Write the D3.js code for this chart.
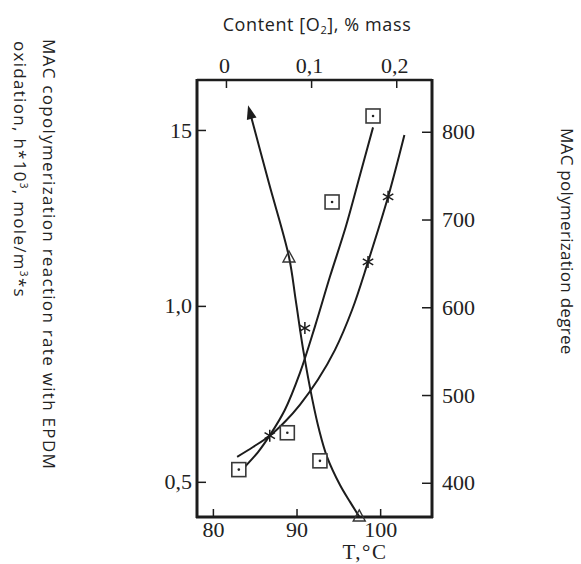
<!DOCTYPE html>
<html><head><meta charset="utf-8">
<script src="https://cdn.jsdelivr.net/npm/d3@7/dist/d3.min.js"></script>
<style>
body{margin:0;background:#fff;}
svg{display:block;}
.tick text{font-family:"Liberation Serif",serif;font-size:22px;fill:#222;}
.lbl{font-family:"Open Sans",sans-serif;fill:#222;}
</style></head>
<body>
<svg id="c" width="581" height="564"></svg>
<script>
// ---- data ----
const T_TICKS = [80, 90, 100];
const O2_TICKS = [0, 0.1, 0.2];
const O2_LABELS = ["0", "0,1", "0,2"];
const RATE_TICKS = [1.5, 1.0, 0.5];
const RATE_LABELS = ["15", "1,0", "0,5"];
const DEG_TICKS = [400, 500, 600, 700, 800];

// squares: polymerization degree (right axis) vs T
const squareT   = [83.1, 88.9, 92.8, 94.25, 99.15];
const squareDeg = [415, 457, 425, 720, 818];
const curveA_T   = [83.8, 85.4, 86.8, 88.6, 90.4, 92.2, 94.0, 95.9, 97.6, 99.15];
const curveA_Deg = [418, 435, 454, 483, 525, 578, 635, 692, 751, 805];

// stars: reaction rate (left axis) vs T
const starT    = [86.8, 91.0, 98.55, 100.95];
const starRate = [0.631, 0.937, 1.125, 1.310];
const curveB_T    = [82.9, 84.8, 86.8, 88.7, 90.4, 92.55, 94.6, 96.65, 98.55, 100.95, 102.9];
const curveB_Rate = [0.571, 0.599, 0.631, 0.673, 0.719, 0.790, 0.875, 0.989, 1.125, 1.310, 1.486];

// triangles: curve with arrow (left axis) vs T
const triT    = [89.1, 97.5];
const triRate = [1.139, 0.403];
const curveC_T    = [84.3, 86.7, 89.1, 89.9, 90.8, 91.9, 92.7, 93.65, 95.2, 96.4, 97.5];
const curveC_Rate = [1.562, 1.349, 1.139, 1.017, 0.875, 0.733, 0.648, 0.571, 0.491, 0.443, 0.401];

// ---- layout ----
const L = 197, R = 432, TOP = 80, B = 517;
const svg = d3.select("#c");
const x = d3.scaleLinear().domain([78.1, 106.2]).range([L, R]);
const xO2 = d3.scaleLinear().domain([-0.034, 0.242]).range([L, R]);
const yRate = d3.scaleLinear().domain([0.40, 1.642]).range([B, TOP]);
const yDeg = d3.scaleLinear().domain([361, 859]).range([B, TOP]);
const ink = "#1c1c1c";

// axes
const gB = svg.append("g").attr("transform", `translate(0,${B})`)
  .call(d3.axisBottom(x).tickValues(T_TICKS).tickSize(-8).tickPadding(4).tickFormat(d3.format("d")));
const gT = svg.append("g").attr("transform", `translate(0,${TOP})`)
  .call(d3.axisTop(xO2).tickValues(O2_TICKS).tickSize(-8).tickPadding(7).tickFormat((d,i)=>O2_LABELS[i]));
const gL = svg.append("g").attr("transform", `translate(${L},0)`)
  .call(d3.axisLeft(yRate).tickValues(RATE_TICKS).tickSize(-9).tickPadding(5).tickFormat((d,i)=>RATE_LABELS[i]));
const gR = svg.append("g").attr("transform", `translate(${R},0)`)
  .call(d3.axisRight(yDeg).tickValues(DEG_TICKS).tickSize(-10).tickPadding(10).tickFormat(d3.format("d")));
[gB,gT,gL,gR].forEach(g=>{
  g.select(".domain").remove();
  g.selectAll(".tick line").attr("stroke", ink).attr("stroke-width", 1.5);
});
gT.selectAll(".tick text").attr("dx", -2);

// frame
svg.append("line").attr("x1",L).attr("x2",R).attr("y1",TOP).attr("y2",TOP).attr("stroke",ink).attr("stroke-width",2.5);
svg.append("line").attr("x1",L-1).attr("x2",R+1).attr("y1",B).attr("y2",B).attr("stroke",ink).attr("stroke-width",3);
svg.append("line").attr("x1",L).attr("x2",L).attr("y1",TOP-1).attr("y2",B+1).attr("stroke",ink).attr("stroke-width",3);
svg.append("line").attr("x1",R).attr("x2",R).attr("y1",TOP-1).attr("y2",B+1).attr("stroke",ink).attr("stroke-width",3);

// curves
const line = d3.line().curve(d3.curveCatmullRom.alpha(0.5));
const ptsA = curveA_T.map((t,i)=>[x(t), yDeg(curveA_Deg[i])]);
const ptsB = curveB_T.map((t,i)=>[x(t), yRate(curveB_Rate[i])]);
const ptsC = curveC_T.map((t,i)=>[x(t), yRate(curveC_Rate[i])]);
[ptsA, ptsB, ptsC].forEach(p=>{
  svg.append("path").attr("d", line(p)).attr("fill","none").attr("stroke",ink).attr("stroke-width",2);
});

// arrow head at start of curve C
{
  const [x0,y0] = ptsC[0], [x1,y1] = ptsC[1];
  const ang = Math.atan2(y0-y1, x0-x1);
  const len = 14, w = 5;
  const tip = [x0 + Math.cos(ang)*3, y0 + Math.sin(ang)*3];
  const bx = tip[0] - Math.cos(ang)*len, by = tip[1] - Math.sin(ang)*len;
  const px = -Math.sin(ang)*w, py = Math.cos(ang)*w;
  svg.append("path").attr("d", `M${tip[0]},${tip[1]}L${bx+px},${by+py}L${bx-px},${by-py}Z`).attr("fill", ink);
}

// square markers
const sq = svg.append("g");
squareT.forEach((t,i)=>{
  const cx = x(t), cy = yDeg(squareDeg[i]);
  sq.append("rect").attr("x",cx-7).attr("y",cy-7).attr("width",14).attr("height",14)
    .attr("fill","#fff").attr("stroke","#3a3a3a").attr("stroke-width",1.6);
  sq.append("circle").attr("cx",cx).attr("cy",cy).attr("r",1.3).attr("fill","#222");
});

// star markers
const st = svg.append("g").attr("stroke", ink).attr("stroke-width",1.5);
starT.forEach((t,i)=>{
  const cx = x(t), cy = yRate(starRate[i]);
  [0,60,120].forEach(a=>{
    const r = 6, rad = (a+90)*Math.PI/180;
    st.append("line").attr("x1",cx-Math.cos(rad)*r).attr("y1",cy-Math.sin(rad)*r)
      .attr("x2",cx+Math.cos(rad)*r).attr("y2",cy+Math.sin(rad)*r);
  });
});

// triangle markers
const tr = svg.append("g");
triT.forEach((t,i)=>{
  const cx = x(t), cy = yRate(triRate[i]);
  tr.append("path").attr("d", `M${cx},${cy-6}L${cx+6},${cy+5}L${cx-6},${cy+5}Z`)
    .attr("fill","none").attr("stroke","#333").attr("stroke-width",1.4);
});

// titles
const topTitle = svg.append("text").attr("class","lbl").attr("x",317).attr("y",31)
  .attr("text-anchor","middle").attr("font-size",18).attr("letter-spacing",0.6);
topTitle.append("tspan").text("Content [O");
topTitle.append("tspan").attr("font-size",11).attr("dy",3).text("2");
topTitle.append("tspan").attr("dy",-3).text("], % mass");

svg.append("text").attr("x",365).attr("y",559).attr("text-anchor","middle")
  .attr("font-family","Liberation Serif, serif").attr("font-size",21).attr("letter-spacing",1.5)
  .attr("fill","#222").text("T,°C");

svg.append("text").attr("class","lbl").attr("font-size",17).attr("letter-spacing",1.3)
  .attr("transform","translate(43,39) rotate(90)").text("MAC copolymerization reaction rate with EPDM");
const l2 = svg.append("text").attr("class","lbl").attr("font-size",17).attr("letter-spacing",1.3)
  .attr("transform","translate(14,41) rotate(90)");
l2.append("tspan").text("oxidation, h*10");
l2.append("tspan").attr("font-size",10).attr("dy",-6).text("3");
l2.append("tspan").attr("dy",6).text(", mole/m");
l2.append("tspan").attr("font-size",10).attr("dy",-6).text("3");
l2.append("tspan").attr("dy",6).text("*s");

svg.append("text").attr("class","lbl").attr("font-size",17).attr("letter-spacing",0.3)
  .attr("transform","translate(561,128) rotate(90)").text("MAC polymerization degree");
</script>
</body></html>
